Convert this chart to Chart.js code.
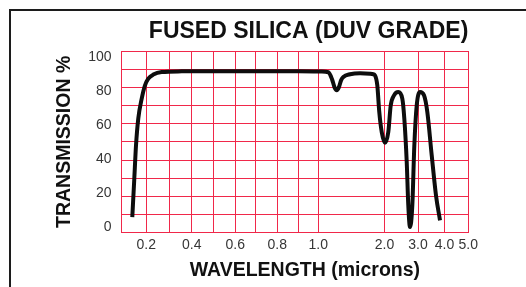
<!DOCTYPE html>
<html>
<head>
<meta charset="utf-8">
<script src="https://cdn.jsdelivr.net/npm/chart.js@4.4.0/dist/chart.umd.min.js"></script>
<style>
  html, body { margin: 0; padding: 0; background: #ffffff; }
  canvas { display: block; }
</style>
</head>
<body>
<canvas id="c" width="526" height="287"></canvas>
<script>
// ---------- text ----------
const chartTitle = 'FUSED SILICA (DUV GRADE)';
const xAxisTitle = 'WAVELENGTH (microns)';
const yAxisTitle = 'TRANSMISSION %';

// ---------- data ----------
const wavelength = [0.1435, 0.1516, 0.1585, 0.1677, 0.1815, 0.1948, 0.2087, 0.2303, 0.2667, 0.355,
  0.5, 0.7, 0.9, 1.05, 1.151, 1.207, 1.245, 1.278, 1.31, 1.345, 1.378, 1.479, 1.63, 1.78, 1.83,
  1.856, 1.891, 1.921, 1.958, 2.015, 2.113, 2.185, 2.284, 2.412, 2.531, 2.591, 2.663, 2.710,
  2.761, 2.830, 2.890, 2.961, 3.075, 3.226, 3.351, 3.517, 3.679, 3.830];
const transmission = [8.6, 29.7, 48, 62.8, 73.8, 81.1, 84.8, 87, 88.4, 88.8,
  88.9, 88.9, 88.8, 88.7, 88.3, 84.5, 80, 78.4, 80, 84, 85.7, 87.2, 87.8, 87.5, 87.2,
  86.6, 81.1, 66.4, 55.4, 49.5, 55.4, 70, 75.6, 77.4, 73.8, 62.8, 38.9, 15,
  3.1, 15, 48, 70, 77.4, 75.6, 66.4, 42.6, 20.5, 6.8];

// ---------- ticks ----------
const xGridValues = [0.1, 0.2, 0.3, 0.4, 0.5, 0.6, 0.7, 0.8, 0.9, 1.0, 2.0, 3.0, 4.0, 5.0];
const xTickLabels = ['', '0.2', '', '0.4', '', '0.6', '', '0.8', '', '1.0', '2.0', '3.0', '4.0', '5.0'];
const yTickValues = [0, 20, 40, 60, 80, 100];
const yTickLabels = ['0', '20', '40', '60', '80', '100'];

// scale configuration: where each x grid value sits along the (hand-drawn, non-uniform) axis, 0..1
const xGridFractions = [0, 0.0715, 0.1381, 0.2027, 0.2662, 0.3281, 0.3878, 0.4493, 0.5104, 0.5675,
  0.7584, 0.855, 0.9314, 1];

// ---------- piecewise-linear axis type ----------
class PiecewiseScale extends Chart.LinearScale {
  _toDecimal(v) {
    const k = xGridValues, f = xGridFractions;
    let i = 0;
    while (i < k.length - 2 && v > k[i + 1]) i++;
    return f[i] + (v - k[i]) / (k[i + 1] - k[i]) * (f[i + 1] - f[i]);
  }
  getPixelForValue(value) {
    return this.getPixelForDecimal(this._toDecimal(value));
  }
  getValueForPixel(pixel) {
    const d = this.getDecimalForPixel(pixel);
    const k = xGridValues, f = xGridFractions;
    let i = 0;
    while (i < f.length - 2 && d > f[i + 1]) i++;
    return k[i] + (d - f[i]) / (f[i + 1] - f[i]) * (k[i + 1] - k[i]);
  }
}
PiecewiseScale.id = 'piecewise';
PiecewiseScale.defaults = { ticks: { callback: Chart.Ticks.formatters.numeric } };
Chart.register(PiecewiseScale);

const GRID_RED = '#f0284a';
const FONT = 'Liberation Sans';

const decor = {
  id: 'decor',
  beforeDraw(chart) {
    const ctx = chart.ctx;
    ctx.save();
    ctx.fillStyle = '#ffffff';
    ctx.fillRect(0, 0, chart.width, chart.height);
    ctx.fillStyle = '#1c1c1c';
    ctx.fillRect(9, 9, chart.width - 9, 2);
    ctx.fillRect(9, 9, 2, chart.height - 9);
    ctx.restore();
  },
  afterDraw(chart) {
    const ctx = chart.ctx;
    const a = chart.chartArea;
    ctx.save();
    ctx.font = 'bold 19.5px "' + FONT + '"';
    ctx.fillStyle = '#111111';
    ctx.textAlign = 'center';
    ctx.textBaseline = 'middle';
    ctx.fillText(xAxisTitle, (a.left + a.right) / 2 + 10, a.bottom + 37.5);
    ctx.restore();
  }
};

new Chart(document.getElementById('c'), {
  type: 'line',
  data: {
    datasets: [{
      data: wavelength.map((w, i) => ({ x: w, y: transmission[i] })),
      borderColor: '#0d0d0d',
      borderWidth: 4,
      pointRadius: 0,
      fill: false,
      cubicInterpolationMode: 'monotone',
      borderJoinStyle: 'round',
      borderCapStyle: 'butt',
      xAxisID: 'x',
      yAxisID: 'y'
    }]
  },
  options: {
    responsive: false,
    animation: false,
    devicePixelRatio: 1,
    layout: { padding: { left: 0, right: 57.7, top: 0, bottom: 0 } },
    plugins: {
      legend: { display: false },
      tooltip: { enabled: false },
      title: {
        display: true,
        text: chartTitle,
        align: 'end',
        color: '#111111',
        font: { family: FONT, size: 23, weight: 'bold', lineHeight: 1.2 },
        padding: { top: 18.1, bottom: 5.3 }
      }
    },
    scales: {
      x: {
        type: 'piecewise',
        position: 'bottom',
        min: 0.1,
        max: 5.0,
        afterBuildTicks: s => { s.ticks = xGridValues.map(v => ({ value: v })); },
        afterFit: s => { s.height = 54.3; },
        ticks: {
          autoSkip: false,
          maxRotation: 0,
          minRotation: 0,
          padding: 3.9,
          color: '#363636',
          font: { family: FONT, size: 14 },
          callback: (v, i) => xTickLabels[i]
        },
        grid: { color: GRID_RED, lineWidth: 1, drawTicks: false },
        border: { display: false }
      },
      y: {
        type: 'linear',
        position: 'left',
        min: 0,
        max: 100,
        ticks: { stepSize: 10, display: false },
        grid: { color: GRID_RED, lineWidth: 1, drawTicks: false },
        border: { display: false },
        afterFit: s => { s.width = 0; }
      },
      yl: {
        type: 'linear',
        position: 'left',
        min: -3.53,
        max: 103.35,
        afterBuildTicks: s => { s.ticks = yTickValues.map(v => ({ value: v })); },
        afterFit: s => { s.width = 121.5; },
        ticks: {
          padding: 10,
          color: '#363636',
          font: { family: FONT, size: 14 },
          callback: (v, i) => yTickLabels[i]
        },
        grid: { display: false, drawTicks: false },
        border: { display: false },
        title: {
          display: true,
          text: yAxisTitle,
          color: '#111111',
          font: { family: FONT, size: 19.5, weight: 'bold', lineHeight: 1.2 },
          padding: { top: 52.6, bottom: 0 }
        }
      }
    }
  },
  plugins: [decor]
});
</script>
</body>
</html>
